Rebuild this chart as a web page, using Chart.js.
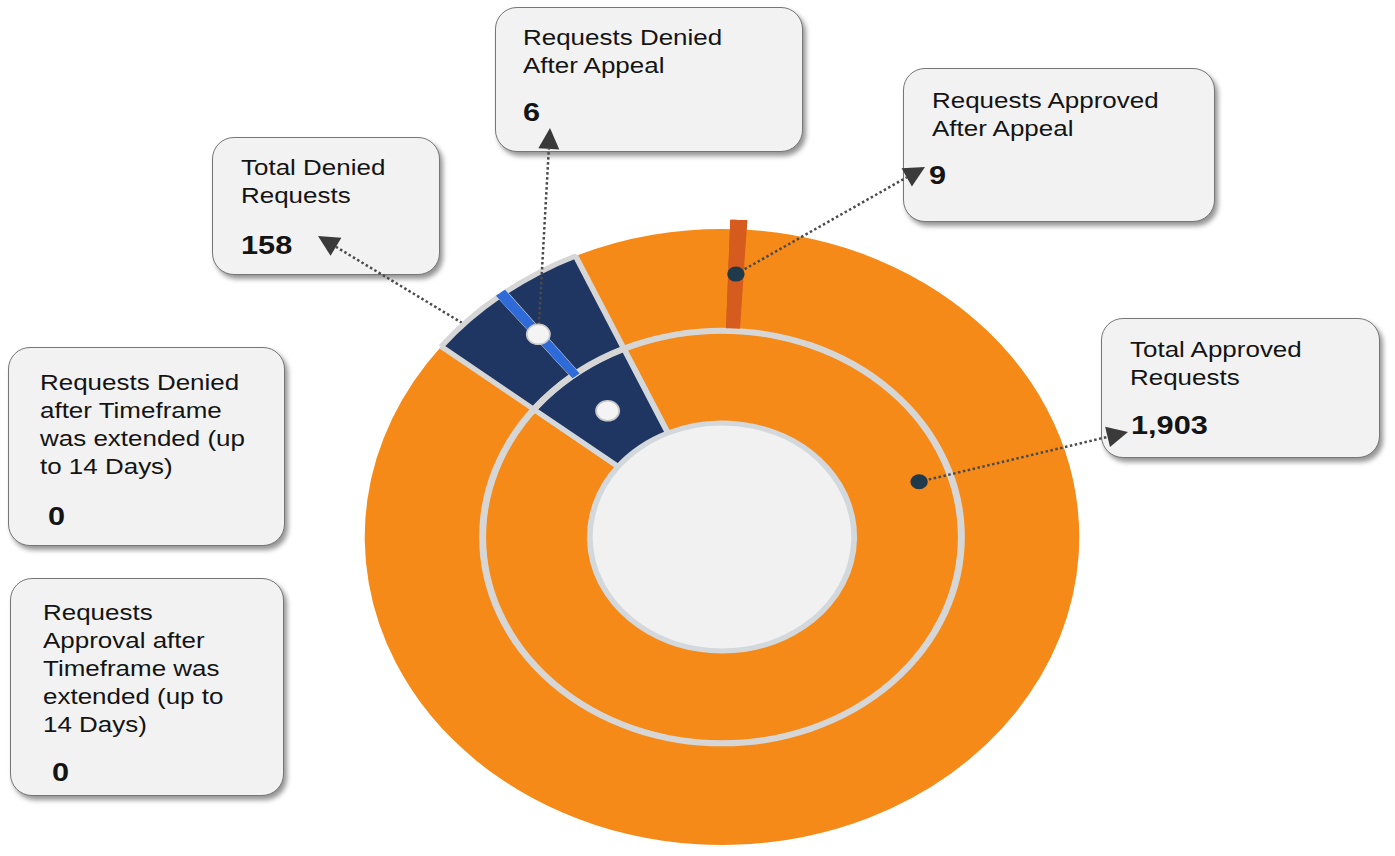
<!DOCTYPE html>
<html>
<head>
<meta charset="utf-8">
<script src="https://cdn.jsdelivr.net/npm/chart.js@4.4.1/dist/chart.umd.min.js"></script>
<style>
html,body{margin:0;padding:0;background:#fff;width:1395px;height:856px;overflow:hidden;}
#wrap{position:relative;width:1395px;height:856px;}
.box{position:absolute;background:#f2f2f2;border:1.5px solid #767676;border-radius:22px;box-shadow:3px 4px 5px rgba(0,0,0,0.42);box-sizing:border-box;}
.txt{position:absolute;font-family:"Liberation Sans",Arial,sans-serif;color:#141414;transform:scaleX(1.18);transform-origin:0 0;white-space:nowrap;}
.lab{font-size:22px;line-height:28px;}
.num{font-size:26px;font-weight:bold;line-height:30px;}
#cv{position:absolute;left:0;top:0;z-index:5;pointer-events:none;}
</style>
</head>
<body>
<div id="wrap">
<canvas id="cv" width="1395" height="856"></canvas>
</div>
<script>
// ---- data ----
const totalApproved = 1903;
const totalDenied = 158;
const approvedAfterAppeal = 9;
const deniedAfterAppeal = 6;
const deniedAfterExtension = 0;
const approvedAfterExtension = 0;

// inner ring: totals
const innerLabels = ['Total Approved Requests', 'Total Denied Requests'];
const innerValues = [1903, 158];
// outer ring: totals split so the appeal slices sit where they appear
const outerLabels = ['Total Approved Requests', 'Requests Approved After Appeal', 'Total Approved Requests',
                     'Total Denied Requests', 'Requests Denied After Appeal', 'Total Denied Requests'];
const outerValues = [149, 9, 1745, 76, 6, 76];

// ---- styles ----
const SX = 1.16;          // horizontal stretch of the picture
const ROT = -24.2;        // ring rotation (deg)
const ORANGE = '#f68a19', NAVY = '#1f3663', RED = '#d65b1e', BLUE = '#2e6ad8', GRAY = '#d6d6d6';

// ---- callouts ----
const callouts = [
  {lines:['Requests Denied','After Appeal'], value: String(deniedAfterAppeal), box:[495,7,308,145], tx:523, ty:24, vx:523, vy:97},
  {lines:['Total Denied','Requests'], value: totalDenied.toLocaleString('en-US'), box:[212,137,228,138], tx:241, ty:154, vx:241, vy:230},
  {lines:['Requests Approved','After Appeal'], value: String(approvedAfterAppeal), box:[903,68,312,154], tx:932, ty:87, vx:929, vy:160},
  {lines:['Total Approved','Requests'], value: totalApproved.toLocaleString('en-US'), box:[1101,318,279,140], tx:1130, ty:336, vx:1131, vy:410},
  {lines:['Requests Denied','after Timeframe','was extended (up','to 14 Days)'], value: String(deniedAfterExtension), box:[8,347,277,199], tx:40, ty:369, vx:48, vy:501},
  {lines:['Requests','Approval after','Timeframe was','extended (up to','14 Days)'], value: String(approvedAfterExtension), box:[10,578,274,218], tx:43, ty:599, vx:52, vy:757}
];
const wrap = document.getElementById('wrap');
callouts.forEach(c => {
  const b = document.createElement('div');
  b.className = 'box';
  b.style.left = c.box[0]+'px'; b.style.top = c.box[1]+'px';
  b.style.width = c.box[2]+'px'; b.style.height = c.box[3]+'px';
  wrap.appendChild(b);
  const t = document.createElement('div');
  t.className = 'txt lab';
  t.style.left = c.tx+'px'; t.style.top = c.ty+'px';
  t.innerHTML = c.lines.join('<br>');
  wrap.appendChild(t);
  const v = document.createElement('div');
  v.className = 'txt num';
  v.style.left = c.vx+'px'; v.style.top = c.vy+'px';
  v.textContent = c.value;
  wrap.appendChild(v);
});

// ---- arrows / dots ----
const tips = {
  totalDenied: {x:318, y:236},
  deniedAppeal: {x:550, y:128},
  approvedAppeal: {x:925, y:167},
  totalApproved: {x:1128, y:432}
};
const approvedDotAngle = 72; // deg from top, on inner approved slice

function centerX(chart){ return chart.getDatasetMeta(0).data[0].x; }
function toPage(chart, p){ const cx = centerX(chart); return {x: cx + (p.x - cx) * SX, y: p.y}; }
function innerApprovedPoint(chart){
  const el = chart.getDatasetMeta(1).data[0];
  const a = (approvedDotAngle - 90) * Math.PI / 180;
  const r = el.innerRadius + 0.7 * (el.outerRadius - el.innerRadius);
  return {x: el.x + Math.cos(a) * r, y: el.y + Math.sin(a) * r};
}
function drawArrow(ctx, from, tip){
  const dx = tip.x - from.x, dy = tip.y - from.y, L = Math.hypot(dx, dy);
  const ux = dx / L, uy = dy / L, head = 21, hw = 10.5;
  const bx = tip.x - ux * head, by = tip.y - uy * head;
  ctx.save();
  ctx.strokeStyle = '#4a4a4a'; ctx.lineWidth = 2.5; ctx.setLineDash([2.5, 2.5]);
  ctx.beginPath(); ctx.moveTo(from.x, from.y); ctx.lineTo(bx, by); ctx.stroke();
  ctx.setLineDash([]); ctx.fillStyle = '#3a3a3a';
  ctx.beginPath(); ctx.moveTo(tip.x, tip.y);
  ctx.lineTo(bx - uy * hw, by + ux * hw); ctx.lineTo(bx + uy * hw, by - ux * hw);
  ctx.closePath(); ctx.fill();
  ctx.restore();
}
function applyStretch(chart){
  const ctx = chart.ctx, cx = centerX(chart);
  ctx.translate(cx, 0); ctx.scale(SX, 1); ctx.translate(-cx, 0);
}
function dot(ctx, p, r, fill, stroke){
  ctx.beginPath(); ctx.arc(p.x, p.y, r, 0, Math.PI * 2);
  ctx.fillStyle = fill; ctx.fill();
  if (stroke){ ctx.lineWidth = 1.5; ctx.strokeStyle = stroke; ctx.stroke(); }
}

const stretchPlugin = {
  id: 'stretch',
  beforeDatasetsDraw(chart){
    const ctx = chart.ctx;
    const innerDen = chart.getDatasetMeta(1).data[1].getCenterPoint();
    drawArrow(ctx, toPage(chart, innerDen), tips.totalDenied);
    ctx.save();
    applyStretch(chart);
    const el = chart.getDatasetMeta(1).data[0];
    ctx.beginPath(); ctx.arc(el.x, el.y, el.innerRadius, 0, Math.PI * 2);
    ctx.fillStyle = '#f1f1f1'; ctx.fill();
  },
  afterDatasetsDraw(chart){
    const ctx = chart.ctx;
    const outer = chart.getDatasetMeta(0).data, inner = chart.getDatasetMeta(1).data;
    // ring boundary line (between outer and inner ring)
    const o0 = outer[0];
    ctx.beginPath(); ctx.arc(o0.x, o0.y, o0.innerRadius, 0, Math.PI * 2);
    ctx.lineWidth = 6; ctx.strokeStyle = GRAY; ctx.stroke();
    // appeal slices drawn again so they sit on top of their neighbours
    outer[4].draw(ctx);
    outer[1].draw(ctx);
    ctx.restore();
    const pDenApp = outer[4].getCenterPoint();
    const pAppApp = outer[1].getCenterPoint();
    const pInDen = inner[1].getCenterPoint();
    const pInApp = innerApprovedPoint(chart);
    drawArrow(ctx, toPage(chart, pDenApp), tips.deniedAppeal);
    drawArrow(ctx, toPage(chart, pAppApp), tips.approvedAppeal);
    drawArrow(ctx, toPage(chart, pInApp), tips.totalApproved);
    ctx.save();
    applyStretch(chart);
    dot(ctx, pDenApp, 10, '#f4f4f4', '#c8c8c8');
    dot(ctx, pInDen, 10, '#f4f4f4', '#c8c8c8');
    dot(ctx, pAppApp, 7.5, '#1f3a4a');
    dot(ctx, pInApp, 7.5, '#1f3a4a');
    ctx.restore();
  }
};

new Chart(document.getElementById('cv'), {
  type: 'doughnut',
  data: {
    labels: outerLabels,
    datasets: [
      {
        label: 'Outer', data: outerValues, clip: false, weight: 1.1,
        backgroundColor: [ORANGE, RED, ORANGE, NAVY, BLUE, NAVY],
        borderColor: [ORANGE, RED, ORANGE, GRAY, BLUE, GRAY],
        borderWidth: [0, 7, 0, 5, 4, 5],
        borderJoinStyle: ['miter', 'miter', 'miter', 'bevel', 'miter', 'bevel'],
        offset: [0, 12, 0, 0, 0, 0]
      },
      {
        label: 'Inner', data: innerValues, clip: false, weight: 1.0,
        backgroundColor: [ORANGE, NAVY],
        borderColor: ['#d3d8dd', '#d3d8dd'],
        borderWidth: 5
      }
    ]
  },
  options: {
    responsive: false,
    animation: false,
    events: [],
    rotation: ROT,
    cutout: '37%',
    radius: 308,
    layout: {padding: {left: 414, right: 365, top: 229, bottom: 11}},
    plugins: {legend: {display: false}, tooltip: {enabled: false}}
  },
  plugins: [stretchPlugin]
});
</script>
</body>
</html>
